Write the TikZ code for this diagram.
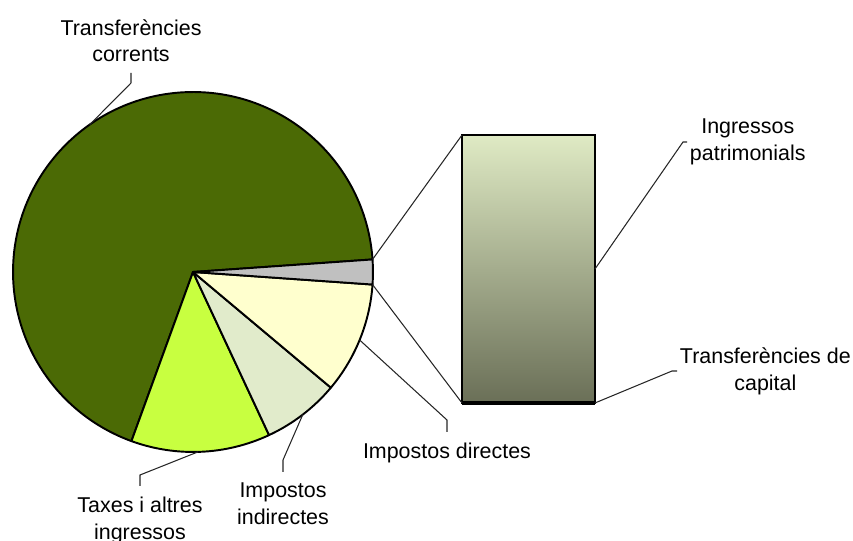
\documentclass[tikz,border=0pt]{standalone}
\usepackage{fontspec}
\setmainfont{Liberation Sans}
\definecolor{corrGreen}{HTML}{4B6A05}
\definecolor{taxLime}{HTML}{C8FF40}
\definecolor{indirGreen}{HTML}{E1EBCB}
\definecolor{dirYellow}{HTML}{FFFFCE}
\definecolor{capGrey}{HTML}{C0C0C0}
\definecolor{barTop}{HTML}{DFEAC4}
\definecolor{barMid}{HTML}{A8B293}
\definecolor{barBot}{HTML}{6A6F57}
\newcommand{\pieR}{3.6cm}

\begin{document}
\begin{tikzpicture}[x=0.02cm, y=0.02cm,
  slice/.style={draw=black, line width=1.1pt, line join=round},
  leader/.style={draw=black!85, line width=0.6pt},
  lbl/.style={font=\fontsize{12.2}{15.3}\selectfont, align=center, inner xsep=1.5pt, inner ysep=6pt}]
  \useasboundingbox (0,0) rectangle (853,541);
  \coordinate (o) at (193,269);
  % pie
  \filldraw[slice, fill=corrGreen] (o) -- ++(4:\pieR) arc[start angle=4, end angle=250, radius=\pieR] -- cycle;
  \filldraw[slice, fill=taxLime] (o) -- ++(-110:\pieR) arc[start angle=-110, end angle=-65, radius=\pieR] -- cycle;
  \filldraw[slice, fill=indirGreen] (o) -- ++(-65:\pieR) arc[start angle=-65, end angle=-40, radius=\pieR] -- cycle;
  \filldraw[slice, fill=dirYellow] (o) -- ++(-40:\pieR) arc[start angle=-40, end angle=-4, radius=\pieR] -- cycle;
  \filldraw[slice, fill=capGrey] (o) -- ++(-4:\pieR) arc[start angle=-4, end angle=4, radius=\pieR] -- cycle;
  % points on the rim
  \path (o) ++(4:\pieR) coordinate (capTop);
  \path (o) ++(-4:\pieR) coordinate (capBot);
  \path (o) ++(125:\pieR) coordinate (corrRim);
  \path (o) ++(-22.2:\pieR) coordinate (dirRim);
  \path (o) ++(-52.4:\pieR) coordinate (indirRim);
  \path (o) ++(-88.4:\pieR) coordinate (taxRim);
  % zoomed bar
  \node[draw, line width=1.1pt, outer sep=0pt, inner sep=0pt,
    minimum width=2.66cm, minimum height=5.36cm,
    top color=barTop, middle color=barMid, bottom color=barBot] (bar) at (528.5,272) {};
  \draw[line width=2.8pt] (bar.south west) -- (bar.south east);
  \draw[leader] (capTop) -- (bar.north west);
  \draw[leader] (capBot) -- (bar.south west);
  % labels
  \node[lbl, anchor=south] (corrLbl) at (131,468) {Transferències\\corrents};
  \node[lbl, anchor=west] (patrLbl) at (687,399) {Ingressos\\patrimonials};
  \node[lbl, anchor=west] (capLbl) at (677,170) {Transferències de\\capital};
  \node[lbl, anchor=north] (dirLbl) at (447,109) {Impostos directes};
  \node[lbl, anchor=north] (indirLbl) at (283,69) {Impostos\\indirectes};
  \node[lbl, anchor=north] (taxLbl) at (140,55) {Taxes i altres\\ingressos};
  % leader knees
  \coordinate (corrKnee) at (131,458);
  \coordinate (patrKnee) at (683,399);
  \coordinate (capKnee) at (672,170);
  \coordinate (dirKnee) at (447,121);
  \coordinate (indirKnee) at (283,81);
  \coordinate (taxKnee) at (140,66);
  \draw[leader] (corrRim) -- (corrKnee) -- (corrLbl.south);
  \draw[leader] (bar.east) -- (patrKnee) -- (patrLbl.west);
  \draw[leader] (bar.south east) -- (capKnee) -- (capLbl.west);
  \draw[leader] (dirRim) -- (dirKnee) -- (dirLbl.north);
  \draw[leader] (indirRim) -- (indirKnee) -- (indirLbl.north);
  \draw[leader] (taxRim) -- (taxKnee) -- (taxLbl.north);
\end{tikzpicture}
\end{document}
